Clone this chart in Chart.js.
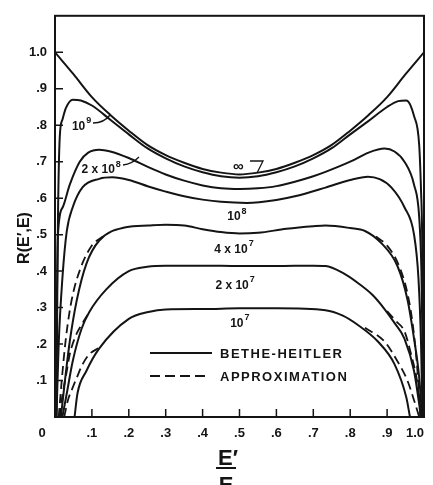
<!DOCTYPE html>
<html>
<head>
<meta charset="utf-8">
<script src="https://cdn.jsdelivr.net/npm/chart.js@4.4.0/dist/chart.umd.min.js"></script>
<style>
  html, body { margin: 0; padding: 0; background: #fff; }
  #wrap { width: 433px; height: 485px; }
</style>
</head>
<body>
<div id="wrap"><canvas id="chart" width="433" height="485"></canvas></div>
<script>
// Curves: E'/E (x) and R(E',E) (y)
const infX = [0, 0.05, 0.1, 0.15, 0.2, 0.25, 0.3, 0.35, 0.4, 0.45, 0.5, 0.55, 0.6, 0.65, 0.7, 0.75, 0.8, 0.85, 0.9, 0.95, 1.0];
const infY = [1.0, 0.94, 0.877, 0.828, 0.785, 0.746, 0.718, 0.697, 0.68, 0.67, 0.665, 0.67, 0.68, 0.697, 0.718, 0.746, 0.785, 0.828, 0.877, 0.94, 1.0];

const e9X = [0.004, 0.006, 0.008, 0.013, 0.02, 0.03, 0.048, 0.07, 0.1, 0.15, 0.2, 0.25, 0.3, 0.35, 0.4, 0.45, 0.5, 0.55, 0.6, 0.65, 0.7, 0.75, 0.8, 0.85, 0.9, 0.93, 0.952, 0.973, 0.987, 0.992, 0.995, 0.997, 0.998];
const e9Y = [0, 0.3, 0.54, 0.77, 0.815, 0.848, 0.87, 0.868, 0.854, 0.815, 0.775, 0.737, 0.709, 0.687, 0.671, 0.66, 0.656, 0.66, 0.671, 0.687, 0.709, 0.737, 0.775, 0.812, 0.85, 0.866, 0.868, 0.825, 0.745, 0.62, 0.5, 0.25, 0];

const s2e8X = [0.003, 0.005, 0.008, 0.021, 0.04, 0.067, 0.09, 0.12, 0.15, 0.2, 0.253, 0.3, 0.35, 0.4, 0.45, 0.5, 0.55, 0.6, 0.65, 0.7, 0.733, 0.8, 0.85, 0.893, 0.92, 0.947, 0.973, 0.987, 0.993, 0.996, 0.998];
const s2e8Y = [0, 0.3, 0.5, 0.575, 0.637, 0.7, 0.725, 0.733, 0.728, 0.71, 0.685, 0.665, 0.648, 0.635, 0.627, 0.625, 0.627, 0.633, 0.645, 0.66, 0.672, 0.7, 0.725, 0.736, 0.728, 0.7, 0.637, 0.548, 0.4, 0.2, 0];

const e8X = [0.004, 0.01, 0.02, 0.032, 0.048, 0.075, 0.12, 0.155, 0.2, 0.253, 0.3, 0.35, 0.4, 0.45, 0.52, 0.6, 0.65, 0.733, 0.8, 0.848, 0.88, 0.912, 0.947, 0.973, 0.985, 0.992, 0.996];
const e8Y = [0, 0.2, 0.38, 0.51, 0.575, 0.63, 0.653, 0.657, 0.65, 0.632, 0.618, 0.605, 0.596, 0.59, 0.587, 0.595, 0.605, 0.629, 0.65, 0.659, 0.652, 0.629, 0.575, 0.5, 0.38, 0.2, 0];

const s4e7X = [0.016, 0.027, 0.04, 0.059, 0.085, 0.12, 0.192, 0.253, 0.3, 0.35, 0.4, 0.45, 0.5, 0.55, 0.627, 0.7, 0.733, 0.8, 0.84, 0.885, 0.928, 0.955, 0.973, 0.987, 0.995];
const s4e7Y = [0, 0.1, 0.207, 0.32, 0.42, 0.484, 0.52, 0.525, 0.527, 0.525, 0.515, 0.507, 0.503, 0.505, 0.516, 0.523, 0.525, 0.518, 0.51, 0.476, 0.414, 0.323, 0.215, 0.108, 0];

const s2e7X = [0.02, 0.032, 0.048, 0.072, 0.093, 0.139, 0.2, 0.25, 0.3, 0.4, 0.5, 0.6, 0.7, 0.733, 0.78, 0.82, 0.86, 0.893, 0.92, 0.947, 0.973, 0.992];
const s2e7Y = [0, 0.065, 0.153, 0.242, 0.288, 0.35, 0.4, 0.412, 0.415, 0.415, 0.414, 0.414, 0.415, 0.414, 0.395, 0.368, 0.335, 0.296, 0.258, 0.215, 0.126, 0];

const e7X = [0.053, 0.061, 0.085, 0.12, 0.2, 0.253, 0.3, 0.405, 0.5, 0.6, 0.733, 0.78, 0.82, 0.875, 0.92, 0.952, 0.962];
const e7Y = [0, 0.065, 0.126, 0.188, 0.269, 0.288, 0.295, 0.296, 0.298, 0.298, 0.293, 0.278, 0.253, 0.207, 0.145, 0.054, 0];

// Approximation (dashed) ends, null = gap in the middle
const a4e7X = [0.01, 0.02, 0.03, 0.045, 0.07, 0.1, 0.13, 0.5, 0.87, 0.9, 0.93, 0.955, 0.97, 0.982, 0.99];
const a4e7Y = [0, 0.12, 0.22, 0.32, 0.41, 0.47, 0.495, null, 0.495, 0.47, 0.42, 0.34, 0.25, 0.13, 0];

const a2e7X = [0.013, 0.018, 0.032, 0.04, 0.055, 0.072, 0.093, 0.5, 0.9, 0.925, 0.947, 0.965, 0.981, 0.99, 0.994];
const a2e7Y = [0, 0.045, 0.126, 0.172, 0.22, 0.253, 0.288, null, 0.29, 0.262, 0.235, 0.172, 0.1, 0.027, 0];

const a1e7X = [0.025, 0.035, 0.045, 0.059, 0.075, 0.093, 0.12, 0.5, 0.84, 0.893, 0.928, 0.955, 0.973, 0.987];
const a1e7Y = [0, 0.046, 0.073, 0.108, 0.145, 0.172, 0.19, null, 0.245, 0.207, 0.153, 0.1, 0.046, 0];

const xTicks = [0, 0.1, 0.2, 0.3, 0.4, 0.5, 0.6, 0.7, 0.8, 0.9, 1.0];
const yTicks = [0.1, 0.2, 0.3, 0.4, 0.5, 0.6, 0.7, 0.8, 0.9, 1.0];

const INK = '#141414';
const FONT = '"Liberation Sans", "DejaVu Sans", sans-serif';

function pts(xs, ys) {
    return xs.map((x, i) => ({ x: x, y: ys[i] }));
}

function curve(xs, ys, dashed) {
    return {
        data: pts(xs, ys),
        borderColor: INK,
        borderWidth: dashed ? 1.8 : 2,
        borderDash: dashed ? [9, 5] : [],
        pointRadius: 0,
        fill: false,
        cubicInterpolationMode: 'monotone',
        spanGaps: false
    };
}

function tickText(v) {
    const n = Math.round(v * 10);
    if (n === 10) return '1.0';
    return '.' + n;
}

// label with a power of ten, centred at cx
function powerLabel(ctx, cx, cy, prefix, exp) {
    ctx.font = 'bold 12px ' + FONT;
    const w1 = ctx.measureText(prefix + '10').width;
    ctx.font = 'bold 9px ' + FONT;
    const w2 = ctx.measureText(exp).width;
    let x = cx - (w1 + w2 + 1) / 2;
    ctx.textAlign = 'left';
    ctx.textBaseline = 'middle';
    ctx.font = 'bold 12px ' + FONT;
    ctx.fillText(prefix + '10', x, cy);
    ctx.font = 'bold 9px ' + FONT;
    ctx.fillText(exp, x + w1 + 1, cy - 6);
}

const decorations = {
    id: 'decorations',
    afterDraw(chart) {
        const ctx = chart.ctx;
        const a = chart.chartArea;
        const xs = chart.scales.x, ys = chart.scales.y;
        const px = v => xs.getPixelForValue(v);
        const py = v => ys.getPixelForValue(v);
        ctx.save();
        ctx.strokeStyle = INK;
        ctx.fillStyle = INK;

        // frame
        ctx.lineWidth = 2;
        ctx.strokeRect(a.left, a.top, a.right - a.left, a.bottom - a.top);

        // inward tick marks
        ctx.lineWidth = 1.5;
        ctx.beginPath();
        yTicks.forEach(v => { ctx.moveTo(a.left, py(v)); ctx.lineTo(a.left + 8, py(v)); });
        xTicks.slice(1, -1).forEach(v => { ctx.moveTo(px(v), a.bottom); ctx.lineTo(px(v), a.bottom - 8); });
        ctx.stroke();

        // end labels of the x axis
        ctx.font = 'bold 13px ' + FONT;
        ctx.textBaseline = 'middle';
        ctx.textAlign = 'center';
        ctx.fillText('0', px(0) - 13, 433);
        ctx.textAlign = 'right';
        ctx.fillText('1.0', a.right, 433);

        // y title
        ctx.save();
        ctx.translate(25, 238);
        ctx.rotate(-Math.PI / 2);
        ctx.font = 'bold 16px ' + FONT;
        ctx.textAlign = 'center';
        ctx.fillText('R(E\u2032,E)', 0, 0);
        ctx.restore();

        // x title as a fraction
        ctx.font = 'bold 22px ' + FONT;
        ctx.textAlign = 'center';
        ctx.textBaseline = 'alphabetic';
        ctx.fillText('E\u2032', 228, 465);
        ctx.fillText('E', 226, 492);
        ctx.lineWidth = 2;
        ctx.beginPath();
        ctx.moveTo(216, 468);
        ctx.lineTo(236, 468);
        ctx.stroke();

        // curve labels
        powerLabel(ctx, px(0.072), py(0.796), '', '9');
        powerLabel(ctx, px(0.125), py(0.677), '2 x ', '8');
        powerLabel(ctx, px(0.493), py(0.548), '', '8');
        powerLabel(ctx, px(0.485), py(0.46), '4 x ', '7');
        powerLabel(ctx, px(0.488), py(0.36), '2 x ', '7');
        powerLabel(ctx, px(0.501), py(0.255), '', '7');

        ctx.font = 'bold 15px ' + FONT;
        ctx.textAlign = 'center';
        ctx.textBaseline = 'middle';
        ctx.fillText('\u221E', px(0.497), py(0.687));

        // leaders
        ctx.lineWidth = 1.3;
        ctx.beginPath();
        ctx.moveTo(93, 123);
        ctx.quadraticCurveTo(104, 123, 110, 115);
        ctx.moveTo(123, 165);
        ctx.quadraticCurveTo(132, 164, 139, 157);
        ctx.moveTo(250, 161);
        ctx.lineTo(263, 161);
        ctx.lineTo(257, 173);
        ctx.stroke();

        // legend
        ctx.lineWidth = 2;
        ctx.beginPath();
        ctx.moveTo(150, 353);
        ctx.lineTo(212, 353);
        ctx.stroke();
        ctx.setLineDash([10, 5]);
        ctx.beginPath();
        ctx.moveTo(150, 376);
        ctx.lineTo(205, 376);
        ctx.stroke();
        ctx.setLineDash([]);
        ctx.font = 'bold 13px ' + FONT;
        ctx.textAlign = 'left';
        ctx.letterSpacing = '1.5px';
        ctx.fillText('BETHE-HEITLER', 220, 354);
        ctx.fillText('APPROXIMATION', 220, 377);
        ctx.restore();
    }
};

new Chart(document.getElementById('chart'), {
    type: 'line',
    data: {
        datasets: [
            curve(infX, infY),
            curve(e9X, e9Y),
            curve(s2e8X, s2e8Y),
            curve(e8X, e8Y),
            curve(s4e7X, s4e7Y),
            curve(s2e7X, s2e7Y),
            curve(e7X, e7Y),
            curve(a4e7X, a4e7Y, true),
            curve(a2e7X, a2e7Y, true),
            curve(a1e7X, a1e7Y, true)
        ]
    },
    options: {
        responsive: false,
        animation: false,
        devicePixelRatio: 1,
        layout: { padding: { top: 7, right: 3, left: 0, bottom: 0 } },
        plugins: { legend: { display: false }, tooltip: { enabled: false } },
        scales: {
            x: {
                type: 'linear',
                min: 0,
                max: 1,
                afterFit: s => { s.height = 68; },
                afterBuildTicks: s => { s.ticks = xTicks.map(v => ({ value: v })); },
                grid: { display: false, drawTicks: false },
                border: { display: false },
                ticks: {
                    padding: 9,
                    color: INK,
                    font: { family: FONT, size: 13, weight: 'bold' },
                    maxRotation: 0,
                    autoSkip: false,
                    callback: v => (v === 0 || v === 1) ? '' : tickText(v)
                }
            },
            y: {
                type: 'linear',
                min: 0,
                max: 1.1,
                afterFit: s => { s.width = 55; },
                afterBuildTicks: s => { s.ticks = yTicks.map(v => ({ value: v })); },
                grid: { display: false, drawTicks: false },
                border: { display: false },
                ticks: {
                    padding: 8,
                    color: INK,
                    font: { family: FONT, size: 13, weight: 'bold' },
                    autoSkip: false,
                    callback: v => tickText(v)
                }
            }
        }
    },
    plugins: [decorations]
});
</script>
</body>
</html>
